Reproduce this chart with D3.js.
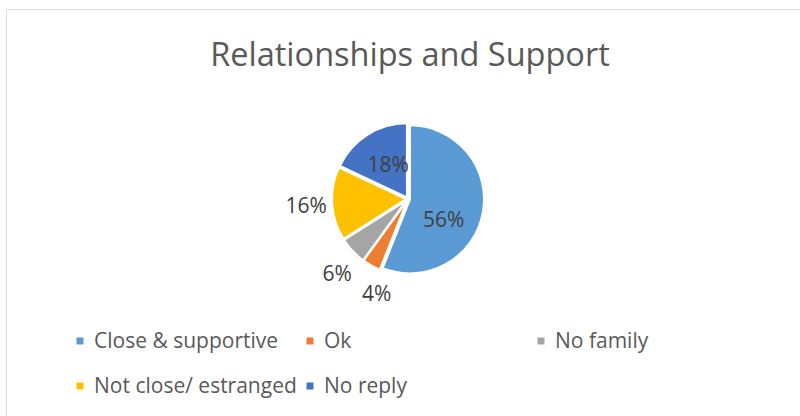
<!DOCTYPE html>
<html>
<head>
<meta charset="utf-8">
<script src="https://cdn.jsdelivr.net/npm/d3@7"></script>
<style>
  html, body { margin: 0; padding: 0; background: #fff; }
  svg { display: block; font-family: "Open Sans", sans-serif; }
</style>
</head>
<body>
<svg id="chart" width="800" height="416"></svg>
<script>
// Survey answers: how close respondents are to their family
const categories = ["Close & supportive", "Ok", "No family", "Not close/ estranged", "No reply"];
const shares = [56, 4, 6, 16, 18];
const colors = ["#5B9BD5", "#ED7D31", "#A5A5A5", "#FFC000", "#4472C4"];
const title = "Relationships and Support";

const svg = d3.select("#chart");

// chart frame
svg.append("rect")
  .attr("x", 6.5).attr("y", 9.5)
  .attr("width", 800).attr("height", 420)
  .attr("fill", "#fff").attr("stroke", "#D9D9D9").attr("stroke-width", 1);

svg.append("text")
  .attr("x", 410).attr("y", 66)
  .attr("text-anchor", "middle")
  .attr("font-size", 32.5)
  .attr("fill", "#595959")
  .text(title);

const cx = 408, cy = 199, r = 74, explode = 2;
const data = categories.map((c, i) => ({ cat: c, value: shares[i], color: colors[i] }));

const pie = d3.pie().value(d => d.value).sort(null);
const arcs = pie(data);
const arc = d3.arc().innerRadius(0).outerRadius(r);

const g = svg.append("g").attr("transform", `translate(${cx},${cy})`);

g.selectAll("path")
  .data(arcs)
  .join("path")
  .attr("d", arc)
  .attr("transform", d => {
    const a = (d.startAngle + d.endAngle) / 2;
    return `translate(${explode * Math.sin(a)},${-explode * Math.cos(a)})`;
  })
  .attr("fill", d => d.data.color)
  .attr("stroke", "#fff")
  .attr("stroke-width", 2)
  .attr("stroke-linejoin", "round");

// data labels: large slices inside, thin slices outside the rim
const labelPos = d => {
  const pct = d.data.value;
  let a = (d.startAngle + d.endAngle) / 2;
  let rad;
  if (pct >= 50) { a += 0.323; rad = 41; }
  else if (pct >= 18) { a += 0.05; rad = 40; }
  else {
    rad = 102;
    if (pct < 5) { a -= 0.183; rad = 100; }
    else if (pct < 10) { a -= 0.06; rad = 103; }
  }
  return [rad * Math.sin(a), -rad * Math.cos(a)];
};

g.selectAll("text.lbl")
  .data(arcs)
  .join("text")
  .attr("class", "lbl")
  .attr("x", d => labelPos(d)[0])
  .attr("y", d => labelPos(d)[1])
  .attr("dy", "0.36em")
  .attr("text-anchor", "middle")
  .attr("font-size", 21)
  .attr("fill", "#404040")
  .text(d => d.data.value + "%");

// legend, wrapped in two rows
const legendCols = [80, 310, 541];
const legendRows = [341, 386];
const legendSlots = [[0, 0], [1, 0], [2, 0], [0, 1], [1, 1]];

const leg = svg.append("g");
data.forEach((d, i) => {
  const [c, rw] = legendSlots[i];
  const x = legendCols[c], y = legendRows[rw];
  leg.append("rect")
    .attr("x", x - 3.5).attr("y", y - 3.5)
    .attr("width", 7).attr("height", 7)
    .attr("fill", d.color);
  leg.append("text")
    .attr("x", x + 14).attr("y", y + 7)
    .attr("font-size", 21)
    .attr("fill", "#595959")
    .text(d.cat);
});
</script>
</body>
</html>
